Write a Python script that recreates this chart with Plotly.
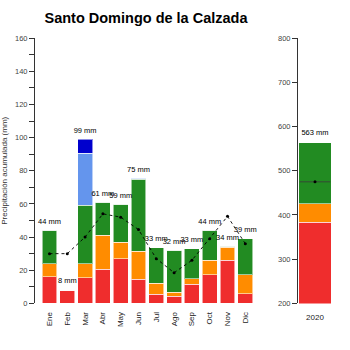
import plotly.graph_objects as go

months = ["Ene", "Feb", "Mar", "Abr", "May", "Jun", "Jul", "Ago", "Sep", "Oct", "Nov", "Dic"]
red = [16, 8, 15.5, 20.5, 27, 14.7, 5.5, 4.3, 11.5, 17.2, 26, 5.7]
orange = [7.8, 0, 8.3, 20.5, 10, 16.7, 6.6, 2.3, 3.3, 8.8, 8, 11.5]
green = [20.2, 0, 35.4, 20, 22.8, 43.6, 21.4, 25.4, 18.2, 18, 0.5, 21.8]
lightblue = [0, 0, 31.5, 0, 0, 0.4, 0, 0, 0, 0, 0, 0]
blue = [0, 0, 8.3, 0, 0, 0, 0, 0, 0, 0, 0, 0]
labels = ["44 mm", "8 mm", "99 mm", "61 mm", "59 mm", "75 mm", "33 mm", "32 mm", "33 mm", "44 mm", "34 mm", "39 mm"]
average = [30, 30, 40, 54, 52, 44.5, 27, 18.5, 26, 39, 52.5, 36]

year = ["2020"]
y_red = [383]
y_orange = [42]
y_green = [138]
y_label = ["563 mm"]
y_avg = [475]

C_RED = "#EF2D2D"
C_ORANGE = "#FF8C00"
C_GREEN = "#228B22"
C_LBLUE = "#6495ED"
C_BLUE = "#0000CD"
FONT = "Liberation Sans, Arial, sans-serif"

W = 350.0
def px(x):
    return x / W
def py(y):
    return 1 - y / W

fig = go.Figure()
outline = dict(color="rgba(255,255,255,0.55)", width=1)
for vals, col in [(red, C_RED), (orange, C_ORANGE), (green, C_GREEN), (lightblue, C_LBLUE), (blue, C_BLUE)]:
    fig.add_trace(go.Bar(x=months, y=vals, marker=dict(color=col, line=outline), width=0.84,
                         xaxis="x", yaxis="y", showlegend=False, hoverinfo="skip"))

totals = [r + o + g + lb + b for r, o, g, lb, b in zip(red, orange, green, lightblue, blue)]
fig.add_trace(go.Scatter(x=months, y=totals, mode="markers+text", text=labels, textposition="top center",
                         marker=dict(size=6, opacity=0),
                         textfont=dict(size=7.5, color="black", family=FONT), xaxis="x", yaxis="y",
                         showlegend=False, cliponaxis=False, hoverinfo="skip"))
fig.add_trace(go.Scatter(x=months, y=average, mode="lines+markers",
                         line=dict(color="black", width=0.9, dash="dot"),
                         marker=dict(color="black", size=3),
                         xaxis="x", yaxis="y", showlegend=False))

for vals, col in [(y_red, C_RED), (y_orange, C_ORANGE), (y_green, C_GREEN)]:
    fig.add_trace(go.Bar(x=year, y=vals, marker=dict(color=col, line=outline), width=0.89,
                         xaxis="x2", yaxis="y2", showlegend=False, hoverinfo="skip"))
ytot = [a + b + c for a, b, c in zip(y_red, y_orange, y_green)]
fig.add_trace(go.Scatter(x=year, y=ytot, mode="markers+text", text=y_label, textposition="top center",
                         marker=dict(size=8, opacity=0),
                         textfont=dict(size=7.5, color="black", family=FONT), xaxis="x2", yaxis="y2",
                         showlegend=False, cliponaxis=False, hoverinfo="skip"))
fig.add_trace(go.Scatter(x=year, y=y_avg, mode="markers",
                         marker=dict(symbol="line-ew", size=22, line=dict(color="#3a3a3a", width=0.8)),
                         xaxis="x2", yaxis="y2", showlegend=False, hoverinfo="skip"))
fig.add_trace(go.Scatter(x=year, y=y_avg, mode="markers",
                         marker=dict(color="black", size=3),
                         xaxis="x2", yaxis="y2", showlegend=False))

ydom = [py(307.3), py(35)]
tickfont = dict(size=7.5, color="#444", family=FONT)
fig.update_layout(
    width=350, height=350,
    margin=dict(l=0, r=0, t=0, b=0),
    paper_bgcolor="white", plot_bgcolor="white",
    barmode="stack",
    title=dict(text="<b>Santo Domingo de la Calzada</b>", x=px(146), xanchor="center",
               y=py(18), yanchor="middle", font=dict(size=14.5, color="black", family=FONT)),
    xaxis=dict(domain=[px(34), px(256)], range=[-0.87, 11.6], type="category",
               showline=False, ticks="", tickangle=-90, ticklabelstandoff=6,
               tickfont=dict(size=8, color="#222", family=FONT),
               showgrid=False, zeroline=False, anchor="y"),
    yaxis=dict(domain=ydom, range=[0, 160], tickmode="linear", tick0=0, dtick=20,
               showline=True, linecolor="#333", linewidth=1, ticks="outside", ticklen=5,
               tickcolor="#333", tickfont=tickfont, showgrid=False, zeroline=False,
               minor=dict(dtick=10, ticks="outside", ticklen=5, tickcolor="#333"),
               title=dict(text="Precipitación acumulada (mm)", font=dict(size=8, color="#333", family=FONT),
                          standoff=5),
               anchor="free", position=px(34)),
    xaxis2=dict(domain=[px(297), px(333)], range=[-0.5, 0.5], type="category",
                showline=False, ticks="", ticklabelstandoff=8,
                tickfont=dict(size=8, color="#222", family=FONT),
                showgrid=False, zeroline=False, anchor="y2"),
    yaxis2=dict(domain=ydom, range=[200, 800], tickmode="linear", tick0=200, dtick=100,
                showline=True, linecolor="#333", linewidth=1, ticks="outside", ticklen=5,
                tickcolor="#333", tickfont=tickfont, showgrid=False, zeroline=False,
                anchor="free", position=px(297)),
)

fig.write_html("out.html")
